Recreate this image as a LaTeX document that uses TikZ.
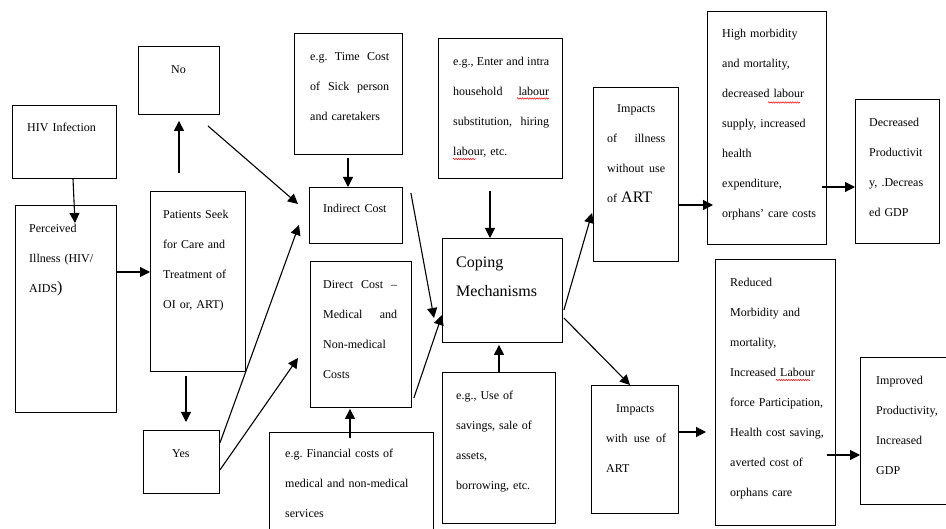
\documentclass[tikz,border=0pt]{standalone}
\usepackage{fontspec}
\setmainfont{Liberation Serif}
\usetikzlibrary{arrows.meta,calc,decorations.pathmorphing}
\tikzset{
  bx/.style={draw=black,line width=0.9pt,inner sep=0pt,anchor=north west},
  txt/.style={anchor=base west,inner sep=0pt,font=\fontsize{12}{30}\selectfont},
  arr/.style={line width=1.1pt,-{Triangle[length=10pt,width=10pt]}},
  squig/.style={red,line width=0.5pt,decorate,decoration={snake,amplitude=0.7pt,segment length=2.4pt}}
}
\newcommand{\jl}[2]{\leavevmode\hbox to #1pt{#2}}
\newcommand{\cl}[2]{\leavevmode\hbox to #1pt{\hfil #2\hfil}}
\newcommand{\bigtxt}[1]{{\fontsize{16}{30}\selectfont #1}}
\begin{document}
\begin{tikzpicture}[x=1pt,y=-1pt]
\useasboundingbox (0,0) rectangle (946,529);
\clip (0,0) rectangle (946,529);
% boxes
\node[bx,minimum width=104pt,minimum height=73pt] (hiv) at (12,105) {};
\node[bx,minimum width=101pt,minimum height=207pt] (perc) at (15,205) {};
\node[bx,minimum width=81pt,minimum height=68pt] (no) at (138,46) {};
\node[bx,minimum width=95pt,minimum height=180pt] (pat) at (150,191) {};
\node[bx,minimum width=76pt,minimum height=63pt] (yes) at (143,430) {};
\node[bx,minimum width=108pt,minimum height=121pt] (time) at (294,33) {};
\node[bx,minimum width=93pt,minimum height=56pt] (indir) at (309,187) {};
\node[bx,minimum width=101pt,minimum height=146pt] (direct) at (310,261) {};
\node[bx,minimum width=164pt,minimum height=120pt] (fin) at (269,432) {};
\node[bx,minimum width=124pt,minimum height=140pt] (enter) at (438,38) {};
\node[bx,minimum width=120pt,minimum height=104pt] (coping) at (442,238) {};
\node[bx,minimum width=113pt,minimum height=151pt] (sav) at (442,372) {};
\node[bx,minimum width=85pt,minimum height=174pt] (illn) at (593,87) {};
\node[bx,minimum width=87pt,minimum height=128pt] (artb) at (591,385) {};
\node[bx,minimum width=119pt,minimum height=233pt] (high) at (707,11) {};
\node[bx,minimum width=84pt,minimum height=144pt] (decr) at (855,99) {};
\node[bx,minimum width=120pt,minimum height=266pt] (red) at (715,259) {};
\node[bx,minimum width=110pt,minimum height=147pt] (impr) at (860,357) {};
% texts
\node[txt,text width=90pt] (hivT) at (27,132) {HIV Infection};
\node[txt,text width=85pt] (percT) at (29,233) {Perceived\\Illness (HIV/\\AIDS\bigtxt{)}};
\node[txt,text width=40pt] (noT) at (171,74) {No};
\node[txt,text width=85pt] (patT) at (163,219) {Patients Seek\\for Care and\\Treatment of\\OI or, ART)};
\node[txt,text width=40pt] (yesT) at (172,457) {Yes};
\node[txt,text width=85pt] (timeT) at (310,61) {\jl{79}{e.g.\hfill Time\hfill Cost}\\\jl{79}{of\hfill Sick\hfill person}\\and caretakers};
\node[txt,text width=80pt] (indirT) at (323,213) {Indirect Cost};
\node[txt,text width=80pt] (directT) at (323,289) {\jl{74}{Direct\hfill Cost\hfill --}\\\jl{74}{Medical\hfill and}\\Non-medical\\Costs};
\node[txt,text width=150pt] (finT) at (285,457) {e.g.\ Financial costs of\\medical and non-medical\\services};
\node[txt,text width=100pt] (enterT) at (453,66) {\jl{96}{e.g.,\hfill Enter\hfill and\hfill intra}\\\jl{96}{household\hfill labour}\\\jl{96}{substitution,\hfill hiring}\\labour, etc.};
\node[txt,text width=110pt,font=\fontsize{16}{29}\selectfont] (copingT) at (456,268) {Coping\\Mechanisms};
\node[txt,text width=100pt] (savT) at (456,400) {e.g., Use of\\savings, sale of\\assets,\\borrowing, etc.};
\node[txt,text width=64pt] (illnT) at (607,113) {\cl{58}{Impacts}\\\jl{58}{of\hfill illness}\\\jl{58}{without\hfill use}\\of \bigtxt{ART}};
\node[txt,text width=64pt] (artT) at (606,413) {\cl{58}{Impacts}\\\jl{60}{with\hfill use\hfill of}\\ART};
\node[txt,text width=110pt] (highT) at (722,38) {High morbidity\\and mortality,\\decreased labour\\supply, increased\\health\\expenditure,\\orphans’ care costs};
\node[txt,text width=60pt] (decrT) at (869,127) {Decreased\\Productivit\\\jl{54}{y,\hfill .Decreas}\\ed GDP};
\node[txt,text width=110pt] (redT) at (730,287) {Reduced\\Morbidity and\\mortality,\\Increased Labour\\force Participation,\\Health cost saving,\\averted cost of\\orphans care};
\node[txt,text width=80pt] (imprT) at (876,385) {Improved\\Productivity,\\Increased\\GDP};
% spell-check marks
\draw[squig] (517,98.5) -- (549,98.5);
\draw[squig] (453,159) -- (476,159);
\draw[squig] (768,102.5) -- (800,102.5);
\draw[squig] (776,380) -- (810,380);
% connectors
\draw[arr] ($(hiv.south west)+(61,0)$) -- ($(perc.north west)+(60,18)$);
\draw[arr] ($(perc.north east)+(0,67)$) -- ($(pat.north west)+(0,81)$);
\draw[arr] ($(pat.north west)+(29,-18)$) -- ($(no.south west)+(41,6)$);
\draw[arr] ($(no.south east)+(-12,11)$) -- ($(indir.north west)+(-11,17)$);
\draw[arr] ($(pat.south west)+(36,4)$) -- ($(yes.north west)+(43,-8)$);
\draw[arr] ($(yes.north east)+(0,13)$) -- ($(indir.north west)+(-10,38)$);
\draw[arr] ($(yes.north east)+(0,40)$) -- ($(direct.north west)+(-12,97)$);
\draw[arr] ($(time.south west)+(54,3)$) -- ($(indir.north west)+(39,0)$);
\draw[arr] ($(indir.north east)+(8,6)$) -- ($(coping.north west)+(-8,80)$);
\draw[arr] ($(direct.south east)+(2,-10)$) -- ($(coping.north west)+(0,77)$);
\draw[arr] ($(enter.south west)+(52,12)$) -- ($(coping.north west)+(48,0)$);
\draw[arr] ($(sav.north west)+(57,0)$) -- ($(coping.south west)+(57,2)$);
\draw[arr] ($(fin.north west)+(81,6)$) -- ($(direct.south west)+(40,1)$);
\draw[arr] ($(coping.north east)+(1,72)$) -- ($(illn.north west)+(-1,126)$);
\draw[arr] ($(coping.north east)+(1,80)$) -- ($(artb.north west)+(39,0)$);
\draw[arr] ($(illn.north east)+(0,118)$) -- ($(high.north west)+(6,194)$);
\draw[arr] ($(high.north east)+(-5,176)$) -- ($(decr.north west)+(0,88)$);
\draw[arr] ($(artb.north east)+(0,47)$) -- ($(red.north west)+(-9,173)$);
\draw[arr] ($(red.north east)+(-9,196)$) -- ($(impr.north west)+(0,98)$);
\end{tikzpicture}
\end{document}
